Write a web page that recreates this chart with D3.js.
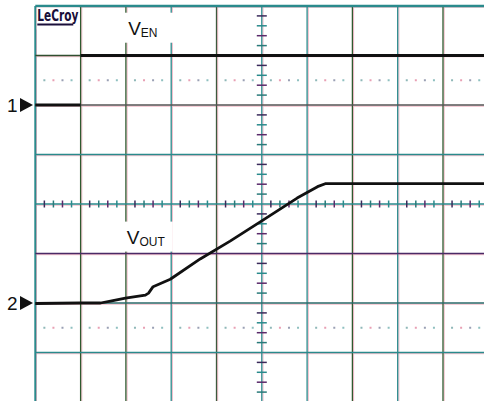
<!DOCTYPE html>
<html>
<head>
<meta charset="utf-8">
<script src="https://cdn.jsdelivr.net/npm/d3@7"></script>
<style>
  html, body { margin: 0; padding: 0; background: #fff; }
  svg { display: block; }
</style>
</head>
<body>
<svg id="scope" width="484" height="401"></svg>
<script>
// Screen is 10 horizontal x 8 vertical divisions, centred at (0, 0).
const timeDivs = d3.range(-5, 6);            // vertical grid lines
const voltDivs = d3.range(-4, 5);            // horizontal grid lines

// V_EN trace (divisions): low level until the enable edge, then high
const enLowTime = [-5.0, -4.0];
const enLowLevel = [2.0, 2.0];
const enHighTime = [-4.0, 4.95];
const enHighLevel = [3.0, 3.0];

// V_OUT trace (divisions): soft-start ramp
const outTime = [-5.0, -4.0, -3.56, -3.34, -3.01, -2.57, -2.5, -2.4, -2.02, -1.36, -0.70, 0.0, 0.78, 1.23, 1.40, 4.95];
const outLevel = [-2.01, -2.0, -2.0, -1.96, -1.90, -1.84, -1.80, -1.67, -1.52, -1.11, -0.75, -0.34, 0.12, 0.35, 0.41, 0.41];

// Channel ground markers
const markerNames = ["1", "2"];
const markerLevels = [2.0, -2.0];

// Trace labels
const labelNames = ["EN", "OUT"];
const labelTime = [-2.95, -2.98];
const labelLevel = [3.42, -0.8];

const svg = d3.select("#scope");
const x = d3.scaleLinear().domain([-5, 5]).range([35.3, 488.3]);
const y = d3.scaleLinear().domain([-4, 4]).range([402, 6]);

const vColors = ["#2a8a8c", "#2f5a2f", "#2f5a2f", "#2a8a8c", "#3d5a3d", "#2a8a8c", "#2a8a8c", "#2f5a2f", "#2a8a8c", "#2f5a2f", "#2a8a8c"];
const hColors = ["#2a8a8c", "#2f4f2f", "#555555", "#2a8a8c", "#2a8a8c", "#4a2a66", "#2a6a6a", "#2a8a8c", "#2a8a8c"];
// index by division from the top
const hColorFor = v => hColors[4 - v];

const grid = svg.append("g");
// faint pink shadow under the grid lines
grid.selectAll("line.vs").data(timeDivs).join("line")
  .attr("x1", d => x(d) + 1.2).attr("x2", d => x(d) + 1.2)
  .attr("y1", y(4)).attr("y2", y(-4))
  .attr("stroke", "#f2b8c6").attr("stroke-width", 1);
grid.selectAll("line.hs").data(voltDivs).join("line")
  .attr("y1", d => y(d) + 1.2).attr("y2", d => y(d) + 1.2)
  .attr("x1", x(-5)).attr("x2", x(5))
  .attr("stroke", "#f2b8c6").attr("stroke-width", 1);
grid.selectAll("line.v").data(timeDivs).join("line")
  .attr("x1", d => x(d)).attr("x2", d => x(d))
  .attr("y1", y(4)).attr("y2", y(-4))
  .attr("stroke", (d, i) => vColors[i])
  .attr("stroke-width", d => d === -5 ? 2 : 1.3);
grid.selectAll("line.h").data(voltDivs).join("line")
  .attr("y1", d => y(d)).attr("y2", d => y(d))
  .attr("x1", x(-5)).attr("x2", x(5))
  .attr("stroke", d => hColorFor(d))
  .attr("stroke-width", d => d === 4 ? 2.5 : 1.3);

// minor ticks on the centre axes
const minor = d3.range(-5, 5.001, 0.2).filter(t => Math.abs(t - Math.round(t)) > 1e-6);
const minorV = d3.range(-4, 4.001, 0.2).filter(t => Math.abs(t - Math.round(t)) > 1e-6);
const tickCol = ["#3a2a5a", "#2a7a7a", "#5a2a6a", "#2a8a8c"];
grid.selectAll("line.tx").data(minor).join("line")
  .attr("x1", d => x(d)).attr("x2", d => x(d))
  .attr("y1", y(0) - 3.5).attr("y2", y(0) + 3.5)
  .attr("stroke", (d, i) => tickCol[i % 4]).attr("stroke-width", 1.5);
grid.selectAll("line.ty").data(minorV).join("line")
  .attr("y1", d => y(d)).attr("y2", d => y(d))
  .attr("x1", x(0) - 5).attr("x2", x(0) + 5)
  .attr("stroke", (d, i) => tickCol[(i + 1) % 4]).attr("stroke-width", 1.5);

// dotted reference rows at +/-2.5 divisions
const dotCols = ["#8fb8b8", "#e8a0b4", "#9aa0b4", "#8fc0c0"];
const dots = [];
timeDivs.slice(0, -1).forEach(t => [0.2, 0.4, 0.6, 0.8].forEach(f => {
  dots.push({t: t + f, v: 2.5}); dots.push({t: t + f, v: -2.5});
}));
grid.selectAll("rect.dot").data(dots).join("rect")
  .attr("x", d => x(d.t) - 1).attr("y", d => y(d.v) - 1)
  .attr("width", 2).attr("height", 2)
  .attr("fill", (d, i) => dotCols[Math.floor(i / 2) % 4]);

// label backgrounds and text
const labels = svg.append("g");
labelNames.forEach((name, i) => {
  const lx = x(labelTime[i]), ly = y(labelLevel[i]);
  labels.append("rect")
    .attr("x", lx - 6).attr("y", ly - 22)
    .attr("width", 52).attr("height", 30)
    .attr("fill", "#fff");
  const t = labels.append("text")
    .attr("x", lx).attr("y", ly)
    .attr("font-family", "Arial, 'Liberation Sans', sans-serif")
    .attr("font-size", 19).attr("fill", "#111");
  t.append("tspan").text("V");
  t.append("tspan").attr("font-size", 12).attr("dy", 2).text(name);
});

// logo cell
svg.append("rect").attr("x", x(-5) + 1.5).attr("y", y(4) + 1.5)
  .attr("width", x(-4) - x(-5) - 2.5).attr("height", 22).attr("fill", "#fff");
svg.append("text")
  .attr("x", x(-5) + 2).attr("y", y(4) + 15)
  .attr("font-family", "'DejaVu Sans Condensed', 'DejaVu Sans', sans-serif")
  .attr("font-weight", "bold").attr("font-size", 15)
  .attr("textLength", 41).attr("lengthAdjust", "spacingAndGlyphs")
  .attr("fill", "#1a0f3a").text("LeCroy");
svg.append("line")
  .attr("x1", x(-5) + 2).attr("x2", x(-5) + 38)
  .attr("y1", y(4) + 18.5).attr("y2", y(4) + 18.5)
  .attr("stroke", "#1a0f3a").attr("stroke-width", 1.8);

// traces
const line = d3.line().x(d => x(d[0])).y(d => y(d[1]));
[[enLowTime, enLowLevel], [enHighTime, enHighLevel], [outTime, outLevel]].forEach(([t, v]) => {
  svg.append("path")
    .attr("d", line(d3.zip(t, v)))
    .attr("fill", "none").attr("stroke", "#111").attr("stroke-width", 2.8)
    .attr("stroke-linejoin", "round");
});

// channel markers
const mk = svg.append("g");
markerNames.forEach((name, i) => {
  const my = y(markerLevels[i]);
  mk.append("text").attr("x", 7).attr("y", my + 7)
    .attr("font-family", "Arial, 'Liberation Sans', sans-serif")
    .attr("font-size", 19).attr("fill", "#111").text(name);
  mk.append("path")
    .attr("d", `M20,${my - 7}L33,${my}L20,${my + 7}Z`)
    .attr("fill", "#111");
});
</script>
</body>
</html>
